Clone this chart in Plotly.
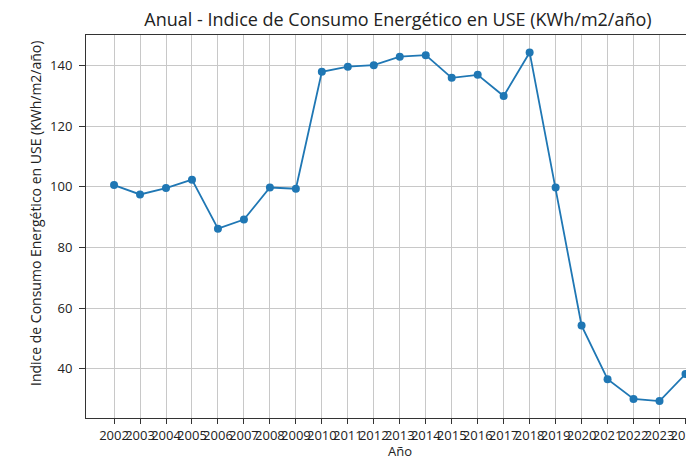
import plotly.graph_objects as go

years = list(range(2002, 2025))
values = [100.6, 97.5, 99.6, 102.4, 86.2, 89.2, 99.8, 99.4, 138.0, 139.7, 140.2, 143.0,
          143.5, 136.0, 137.0, 130.0, 144.4, 99.8, 54.2, 36.5, 30.0, 29.3, 38.2]
tick_labels = [str(y) for y in years]
y_ticks = [40, 60, 80, 100, 120, 140]

title_text = "Anual - Indice de Consumo Energético en USE (KWh/m2/año)"
x_title = "Año"
y_title = "Indice de Consumo Energético en USE (KWh/m2/año)"

W, H = 686, 459
L, T, B = 86, 35, 41
PW, PH = W - L, H - T - B

fig = go.Figure()
fig.add_trace(go.Scatter(
    x=years, y=values, mode="lines+markers",
    line=dict(color="#1f77b4", width=1.8),
    marker=dict(color="#1f77b4", size=8),
    showlegend=False, cliponaxis=True,
))

font = "Open Sans, sans-serif"
fig.update_layout(
    width=W, height=H,
    margin=dict(l=L, r=0, t=T, b=B),
    paper_bgcolor="white", plot_bgcolor="white",
    font=dict(family=font, color="#222", size=12),
    title=dict(text=title_text, x=398/W, xanchor="center", y=1 - 20/H, yanchor="middle",
               font=dict(size=18, family=font, color="#222")),
    annotations=[
        dict(text=x_title, xref="paper", yref="paper", x=(400 - L) / PW, y=-33/PH,
             xanchor="center", yanchor="middle", showarrow=False, font=dict(size=13)),
        dict(text=y_title, xref="paper", yref="paper", x=(35 - L) / PW, y=(H - B - 214) / PH,
             xanchor="center", yanchor="middle", textangle=-90, showarrow=False,
             font=dict(size=14)),
    ],
)
fig.update_xaxes(
    range=[2000.92, 2024.02], tickmode="array", tickvals=years, ticktext=tick_labels,
    showgrid=True, gridcolor="#c8c8c8", gridwidth=1,
    showline=True, linecolor="#333", linewidth=1, mirror=True,
    ticks="outside", ticklen=5, tickcolor="#333", tickangle=0,
    tickfont=dict(size=13), zeroline=False, automargin=False,
    ticklabeloverflow="allow",
)
fig.update_yaxes(
    range=[23.7, 150.15], tickmode="array", tickvals=y_ticks,
    showgrid=True, gridcolor="#c8c8c8", gridwidth=1,
    showline=True, linecolor="#333", linewidth=1, mirror=True,
    ticks="outside", ticklen=6, tickcolor="#333", ticklabelstandoff=4,
    tickfont=dict(size=13), zeroline=False, automargin=False,
)
fig.write_html(
    "out.html",
    config={"displayModeBar": False},
    post_script="document.body.style.margin='0';document.body.style.overflow='hidden';",
)
